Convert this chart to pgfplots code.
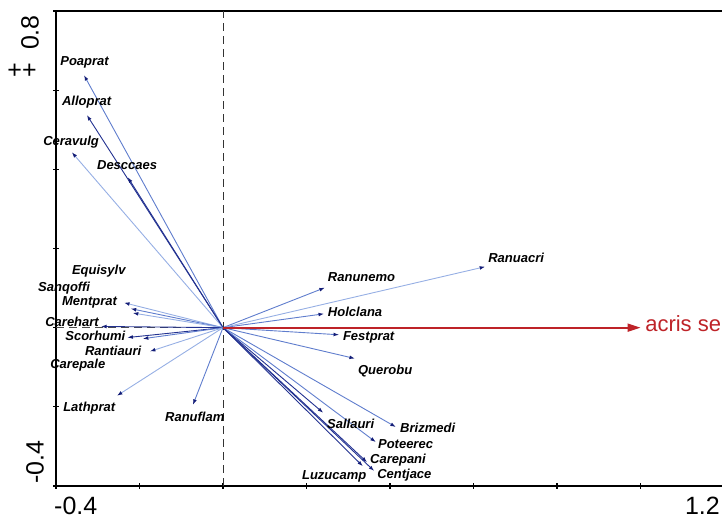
\documentclass[border=0pt]{standalone}
\usepackage{pgfplots}
\pgfplotsset{compat=1.18}
\usepackage{fontspec}
\setmainfont{Liberation Sans}
\usetikzlibrary{arrows.meta}
\definecolor{darkb}{RGB}{35,50,145}
\definecolor{midb}{RGB}{95,125,205}
\definecolor{paleb}{RGB}{150,175,228}
\definecolor{navyh}{RGB}{20,30,120}
\definecolor{redv}{RGB}{190,35,40}
\tikzset{
  lab/.style={anchor=west, inner sep=0pt, font=\fontsize{13bp}{15bp}\selectfont\bfseries\itshape},
  arr/.style={line width=0.9bp, -{Latex[length=5.5bp,width=3.8bp,color=navyh]}}
}
\begin{document}
\begin{tikzpicture}[x=1bp,y=1bp]
\useasboundingbox (0,0) rectangle (722,519);
\begin{axis}[
  at={(56bp,33bp)}, anchor=south west,
  scale only axis, width=668bp, height=475bp,
  xmin=-0.4, xmax=1.2, ymin=-0.4, ymax=0.8,
  axis line style={draw=none},
  xtick={-0.4,-0.2,0,0.2,0.4,0.6,0.8,1.0,1.2},
  ytick={-0.4,-0.2,0,0.2,0.4,0.6,0.8},
  xticklabels={}, yticklabels={},
  xtick pos=bottom, ytick pos=left,
  tick align=center, major tick length=6bp,
  tick style={line width=1.2bp, black},
  clip=false,
  every axis plot/.append style={no markers}
]
% frame (left, bottom, top)
\draw[line width=2.4bp, line cap=rect] (rel axis cs:1,1) -- (rel axis cs:0,1) -- (rel axis cs:0,0) -- (rel axis cs:1,0);
% reference lines
\draw[dashed, dash pattern=on 8bp off 5bp, line width=0.9bp, black!80] (axis cs:0,-0.4) -- (axis cs:0,0.8);
\draw[dashed, dash pattern=on 8bp off 5bp, line width=0.9bp, black!70] (axis cs:-0.4,0) -- (axis cs:0,0);
% species arrows
\addplot[midb, arr] coordinates {(0,0) (-0.333,0.638)}; % Poaprat
\addplot[darkb, arr] coordinates {(0,0) (-0.326,0.537)}; % Alloprat
\addplot[paleb, arr] coordinates {(0,0) (-0.362,0.443)}; % Ceravulg
\addplot[darkb, arr] coordinates {(0,0) (-0.228,0.380)}; % Desccaes
\addplot[paleb, arr] coordinates {(0,0) (-0.237,0.063)}; % Equisylv
\addplot[midb, arr] coordinates {(0,0) (-0.221,0.048)}; % Sanqoffi
\addplot[paleb, arr] coordinates {(0,0) (-0.216,0.037)}; % Mentprat
\addplot[darkb, arr] coordinates {(0,0) (-0.292,0.003)}; % Carehart
\addplot[darkb, arr] coordinates {(0,0) (-0.229,-0.025)}; % Scorhumi
\addplot[midb, arr] coordinates {(0,0) (-0.192,-0.028)}; % Rantiauri
\addplot[paleb, arr] coordinates {(0,0) (-0.175,-0.060)}; % Carepale
\addplot[paleb, arr] coordinates {(0,0) (-0.254,-0.172)}; % Lathprat
\addplot[midb, arr] coordinates {(0,0) (-0.072,-0.195)}; % Ranuflam
\addplot[midb, arr] coordinates {(0,0) (0.244,0.101)}; % Ranunemo
\addplot[midb, arr] coordinates {(0,0) (0.242,0.035)}; % Holclana
\addplot[midb, arr] coordinates {(0,0) (0.278,-0.018)}; % Festprat
\addplot[midb, arr] coordinates {(0,0) (0.316,-0.078)}; % Querobu
\addplot[paleb, arr] coordinates {(0,0) (0.628,0.154)}; % Ranuacri
\addplot[darkb, arr] coordinates {(0,0) (0.240,-0.215)}; % Sallauri
\addplot[midb, arr] coordinates {(0,0) (0.414,-0.251)}; % Brizmedi
\addplot[midb, arr] coordinates {(0,0) (0.366,-0.289)}; % Poteerec
\addplot[darkb, arr] coordinates {(0,0) (0.345,-0.340)}; % Carepani
\addplot[darkb, arr] coordinates {(0,0) (0.362,-0.362)}; % Centjace
\addplot[darkb, arr] coordinates {(0,0) (0.335,-0.350)}; % Luzucamp
% environmental variable
\addplot[draw=redv, color=redv, line width=1.8bp, -{Triangle[length=13bp,width=8bp,color=redv]}] coordinates {(0,0) (1.0,0)};
% labels
\node[lab] at (axis cs:-0.390,0.671) {Poaprat};
\node[lab] at (axis cs:-0.386,0.570) {Alloprat};
\node[lab] at (axis cs:-0.431,0.468) {Ceravulg};
\node[lab] at (axis cs:-0.302,0.410) {Desccaes};
\node[lab] at (axis cs:-0.362,0.144) {Equisylv};
\node[lab] at (axis cs:-0.443,0.101) {Sanqoffi};
\node[lab] at (axis cs:-0.386,0.063) {Mentprat};
\node[lab] at (axis cs:-0.426,0.015) {Carehart};
\node[lab] at (axis cs:-0.378,-0.020) {Scorhumi};
\node[lab] at (axis cs:-0.331,-0.058) {Rantiauri};
\node[lab] at (axis cs:-0.414,-0.094) {Carepale};
\node[lab] at (axis cs:-0.383,-0.203) {Lathprat};
\node[lab] at (axis cs:-0.139,-0.225) {Ranuflam};
\node[lab] at (axis cs:0.251,0.127) {Ranunemo};
\node[lab] at (axis cs:0.251,0.041) {Holclana};
\node[lab] at (axis cs:0.287,-0.025) {Festprat};
\node[lab] at (axis cs:0.323,-0.109) {Querobu};
\node[lab] at (axis cs:0.635,0.177) {Ranuacri};
\node[lab] at (axis cs:0.249,-0.243) {Sallauri};
\node[lab] at (axis cs:0.424,-0.253) {Brizmedi};
\node[lab] at (axis cs:0.371,-0.294) {Poteerec};
\node[lab] at (axis cs:0.352,-0.334) {Carepani};
\node[lab] at (axis cs:0.369,-0.372) {Centjace};
\node[lab] at (axis cs:0.189,-0.375) {Luzucamp};
\node[anchor=base west, inner sep=0pt, text=redv, font=\fontsize{22bp}{24bp}\selectfont] at (axis cs:1.011,-0.010) {acris se};
\end{axis}
% axis end labels
\node[anchor=north west, inner sep=0pt, font=\fontsize{25bp}{27bp}\selectfont] at (54,519-497) {-0.4};
\node[anchor=north east, inner sep=0pt, font=\fontsize{25bp}{27bp}\selectfont] at (720,519-497) {1.2};
\node[rotate=90, anchor=north east, inner sep=0pt, font=\fontsize{25bp}{27bp}\selectfont] at (21,519-15) {0.8};
\node[rotate=90, anchor=south west, inner sep=0pt, font=\fontsize{25bp}{27bp}\selectfont] at (44,519-484) {-0.4};
\node[inner sep=0pt, font=\fontsize{25bp}{27bp}\selectfont] at (22,519-71) {++};
\end{tikzpicture}
\end{document}
